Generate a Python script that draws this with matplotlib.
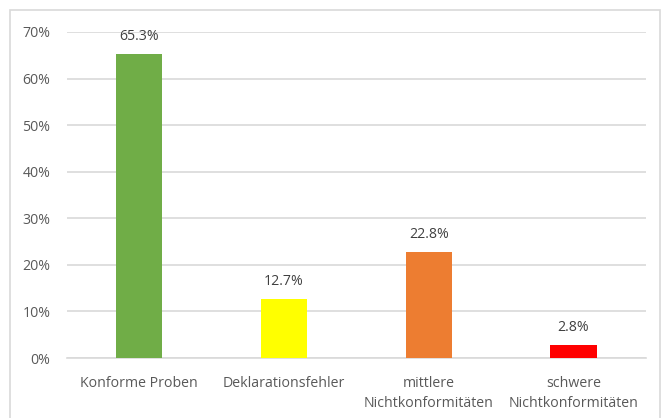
import matplotlib
matplotlib.use("Agg")
import matplotlib.pyplot as plt
from matplotlib.patches import Rectangle

categories = ["Konforme Proben", "Deklarationsfehler", "mittlere\nNichtkonformitäten", "schwere\nNichtkonformitäten"]
values = [65.3, 12.7, 22.8, 2.8]
colors = ["#70AD47", "#FFFF00", "#ED7D31", "#FF0000"]
yticks = [0, 10, 20, 30, 40, 50, 60, 70]
ytick_labels = ["0%", "10%", "20%", "30%", "40%", "50%", "60%", "70%"]

plt.rcParams['font.family'] = ['Open Sans', 'DejaVu Sans']
txt = "#595959"
fs = 10.2

fig = plt.figure(figsize=(6.63, 4.18), dpi=100)
ax = fig.add_axes([0.101, 0.1435, 0.873, 0.78])
x = list(range(len(categories)))
ax.bar(x, values, width=0.32, color=colors, zorder=3)
for xi, v in zip(x, values):
    ax.text(xi, v + 2.2, f"{v:.1f}%", ha="center", va="bottom", fontsize=fs, color="#404040")
ax.set_xlim(-0.5, 3.5)
ax.set_ylim(0, 70)
ax.set_yticks(yticks)
ax.set_yticklabels(ytick_labels, fontsize=fs, color=txt)
ax.set_xticks(x)
ax.set_xticklabels(categories, fontsize=fs, color=txt, linespacing=1.45)
ax.tick_params(axis="both", length=0)
ax.tick_params(axis="y", pad=12)
ax.tick_params(axis="x", pad=13)
ax.grid(axis="y", color="#D9D9D9", linewidth=1.2, zorder=0)
for s in ["top", "right", "left"]:
    ax.spines[s].set_visible(False)
ax.spines["bottom"].set_color("#D9D9D9")
ax.spines["bottom"].set_linewidth(1.2)

fig.patches.append(Rectangle((10/663, -0.05), 650/663, 1 - 10/418 + 0.05, transform=fig.transFigure,
                             fill=False, edgecolor="#D9D9D9", linewidth=1.2))
fig.savefig("out.png", dpi=100)
